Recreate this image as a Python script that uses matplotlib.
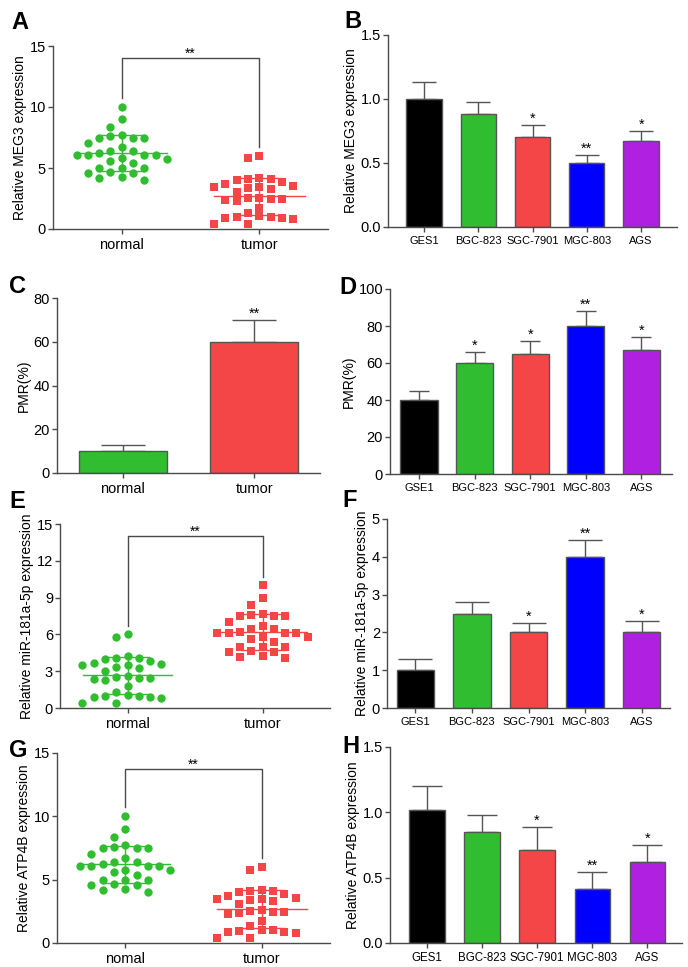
import numpy as np
import matplotlib
matplotlib.use("Agg")
import matplotlib.pyplot as plt

plt.rcParams['font.family'] = ['Liberation Sans', 'DejaVu Sans']

# ---------------- data ----------------
# scatter groups (A, G: normal high / tumor low; E: swapped)
meg3_normal = [10.0, 9.0, 8.4, 7.7, 7.5, 7.5, 7.5, 7.6, 7.05, 6.4, 6.7, 6.2, 6.1, 6.1,
               6.1, 6.1, 6.4, 5.75, 5.6, 5.8, 5.4, 5.0, 5.0, 5.0, 4.55, 4.27, 4.05,
               4.19, 4.55, 4.68]
meg3_tumor = [5.8, 6.0, 4.21, 3.68, 3.47, 3.37, 4.08, 3.05, 3.29, 4.03, 3.47, 4.08, 3.55,
              3.84, 2.53, 2.42, 2.26, 1.76, 2.37, 2.45, 2.58, 1.32, 1.0, 0.87, 0.87,
              0.42, 0.42, 0.79, 0.95, 1.05]
mir_normal = list(meg3_tumor)
mir_tumor = list(meg3_normal)
atp_normal = list(meg3_normal)
atp_tumor = list(meg3_tumor)

cells_B = ['GES1', 'BGC-823', 'SGC-7901', 'MGC-803', 'AGS']
cells_D = ['GSE1', 'BGC-823', 'SGC-7901', 'MGC-803', 'AGS']
meg3_cells = [1.0, 0.88, 0.70, 0.50, 0.67]
meg3_cells_err = [0.13, 0.10, 0.10, 0.06, 0.08]
meg3_cells_sig = ['', '', '*', '**', '*']

pmr_tissue_labels = ['normal', 'tumor']
pmr_tissue = [10, 60]
pmr_tissue_err = [3, 10]
pmr_tissue_sig = ['', '**']

pmr_cells = [40, 60, 65, 80, 67]
pmr_cells_err = [5, 6, 7, 8, 7]
pmr_cells_sig = ['', '*', '*', '**', '*']

mir_cells = [1.0, 2.5, 2.0, 4.0, 2.0]
mir_cells_err = [0.3, 0.3, 0.24, 0.45, 0.3]
mir_cells_sig = ['', '', '*', '**', '*']

atp_cells = [1.02, 0.85, 0.71, 0.41, 0.62]
atp_cells_err = [0.18, 0.13, 0.18, 0.13, 0.13]
atp_cells_sig = ['', '', '*', '**', '*']

# ---------------- style ----------------
W, H = 688, 967
GREEN = '#30BE30'
RED = '#F44646'
BLUE = '#0000FF'
PURPLE = '#B020E0'
BLACK = '#000000'
BAR_COLORS = [BLACK, GREEN, RED, BLUE, PURPLE]
AXC = '#4a4a4a'

fig = plt.figure(figsize=(W / 100, H / 100), dpi=100)


def px_axes(l, t, r, b):
    return fig.add_axes([l / W, 1 - b / H, (r - l) / W, (b - t) / H])


def style_axes(ax, xfs):
    for s in ['top', 'right']:
        ax.spines[s].set_visible(False)
    for s in ['left', 'bottom']:
        ax.spines[s].set_color(AXC)
        ax.spines[s].set_linewidth(1.0)
    ax.tick_params(axis='both', direction='out', color=AXC, width=1.0, length=3.5)
    ax.tick_params(axis='y', labelsize=10.5, pad=1.5)
    ax.tick_params(axis='x', labelsize=xfs, pad=3)


def lattice_swarm(ax, xc, vals, spacing_px, row_px):
    """GraphPad-like layout: x offsets on a half-spacing lattice, no overlaps."""
    vals = np.asarray(vals, float)
    ypix = ax.transData.transform(np.column_stack([np.full(len(vals), xc), vals]))[:, 1]
    order = np.argsort(-ypix, kind='stable')
    cands = [0.0]
    for k in range(1, 20):
        cands += [-k * spacing_px / 2, k * spacing_px / 2]
    placed = []
    off = np.zeros(len(vals))
    for i in order:
        y = ypix[i]
        for c in cands:
            ok = True
            for px, py in placed:
                if abs(py - y) < row_px and abs(px - c) < spacing_px - 1e-6:
                    ok = False
                    break
            if ok:
                off[i] = c
                placed.append((c, y))
                break
    x0 = ax.transData.transform([[0, 0]])[0, 0]
    x1 = ax.transData.transform([[1, 0]])[0, 0]
    return xc + off / (x1 - x0)


def scatter_panel(box, g1, g2, labels, ylabel, yticks, bracket_y, letter, letter_pos):
    ax = px_axes(*box)
    ax.set_xlim(-0.5, 1.5)
    ax.set_ylim(0, yticks[-1])
    style_axes(ax, 10.5)
    for xc, vals, col, mk in [(0, g1, GREEN, 'o'), (1, g2, RED, 's')]:
        xs = lattice_swarm(ax, xc, vals, 11.3, 8.5)
        ax.plot(xs, vals, linestyle='none', marker=mk, ms=6.0 if mk == 'o' else 5.4,
                mfc=col, mec=col, mew=0, zorder=3)
        m = np.mean(vals)
        sd = np.std(vals, ddof=1)
        ax.plot([xc - 0.33, xc + 0.33], [m, m], color=col, lw=1.0, zorder=2)
        ax.plot([xc - 0.16, xc + 0.16], [m + sd, m + sd], color=col, lw=1.0, zorder=2)
        ax.plot([xc - 0.16, xc + 0.16], [m - sd, m - sd], color=col, lw=1.0, zorder=2)
        ax.plot([xc, xc], [m - sd, m + sd], color=col, lw=1.0, zorder=2)
    top1 = max(g1) + 0.7
    top2 = max(g2) + 0.7
    ax.plot([0, 0, 1, 1], [top1, bracket_y, bracket_y, top2], color=AXC, lw=1.0)
    ax.annotate('**', (0.5, bracket_y), xytext=(0, -1.5), textcoords='offset points',
                ha='center', va='bottom', fontsize=10)
    ax.set_xticks([0, 1])
    ax.set_xticklabels(labels)
    ax.set_yticks(yticks)
    ax.set_ylabel(ylabel, fontsize=10, labelpad=2)
    fig.text(letter_pos[0] / W, 1 - letter_pos[1] / H, letter, fontsize=17,
             fontweight='bold', ha='left', va='top')
    return ax


def bar_panel(box, labels, vals, errs, sigs, ylabel, yticks, ytl, xlim, width, cap,
              xfs, letter, letter_pos, colors):
    ax = px_axes(*box)
    x = np.arange(len(vals))
    ax.bar(x, vals, width=width, color=colors, edgecolor='#555555', linewidth=1.0,
           zorder=2)
    ax.errorbar(x, vals, yerr=[np.zeros(len(vals)), errs], fmt='none', ecolor='#555555',
                elinewidth=1.0, capsize=cap, capthick=1.0, zorder=1)
    for xi, v, e, s in zip(x, vals, errs, sigs):
        if s:
            ax.annotate(s, (xi, v + e), xytext=(0, -0.5), textcoords='offset points',
                        ha='center', va='bottom', fontsize=10.5)
    ax.set_xlim(*xlim)
    ax.set_ylim(0, yticks[-1])
    style_axes(ax, xfs)
    ax.set_xticks(x)
    ax.set_xticklabels(labels)
    ax.set_yticks(yticks)
    if ytl is not None:
        ax.set_yticklabels(ytl)
    ax.set_ylabel(ylabel, fontsize=10, labelpad=2)
    fig.text(letter_pos[0] / W, 1 - letter_pos[1] / H, letter, fontsize=17,
             fontweight='bold', ha='left', va='top')
    return ax


# A
scatter_panel((53, 46, 328, 229), meg3_normal, meg3_tumor, ['normal', 'tumor'],
              'Relative MEG3 expression', [0, 5, 10, 15], 14.0, 'A', (11, 11))
# B
bar_panel((388, 35, 677, 227), cells_B, meg3_cells, meg3_cells_err, meg3_cells_sig,
          'Relative MEG3 expression', [0, 0.5, 1.0, 1.5], ['0.0', '0.5', '1.0', '1.5'],
          (-0.66, 4.66), 0.65, 8.5, 8.0, 'B', (344, 10), BAR_COLORS)
# C
bar_panel((57, 298, 320, 473), pmr_tissue_labels, pmr_tissue, pmr_tissue_err,
          pmr_tissue_sig, 'PMR(%)', [0, 20, 40, 60, 80], None, (-0.5, 1.5), 0.67, 16,
          10.5, 'C', (9, 275), [GREEN, RED])
# D
bar_panel((390, 289, 672, 474), cells_D, pmr_cells, pmr_cells_err, pmr_cells_sig,
          'PMR(%)', [0, 20, 40, 60, 80, 100], None, (-0.52, 4.55), 0.67, 7.5, 8.0,
          'D', (339, 276), BAR_COLORS)
# E
scatter_panel((60, 524, 330, 708), mir_normal, mir_tumor, ['normal', 'tumor'],
              'Relative miR-181a-5p expression', [0, 3, 6, 9, 12, 15], 14.0, 'E',
              (9, 490))
# F
bar_panel((387, 519, 670, 708), cells_B, mir_cells, mir_cells_err, mir_cells_sig,
          'Relative miR-181a-5p expression', [0, 1, 2, 3, 4, 5], None, (-0.5, 4.5),
          0.66, 12, 8.0, 'F', (342, 489), BAR_COLORS)
# G
scatter_panel((57, 753, 330, 943), atp_normal, atp_tumor, ['nomal', 'tumor'],
              'Relative ATP4B expression', [0, 5, 10, 15], 13.7, 'G', (9, 739))
# H
bar_panel((390, 747, 682, 943), cells_B, atp_cells, atp_cells_err, atp_cells_sig,
          'Relative ATP4B expression', [0, 0.5, 1.0, 1.5], ['0.0', '0.5', '1.0', '1.5'],
          (-0.67, 4.63), 0.64, 11, 8.3, 'H', (342, 735), BAR_COLORS)

fig.savefig('out.png', dpi=100)
